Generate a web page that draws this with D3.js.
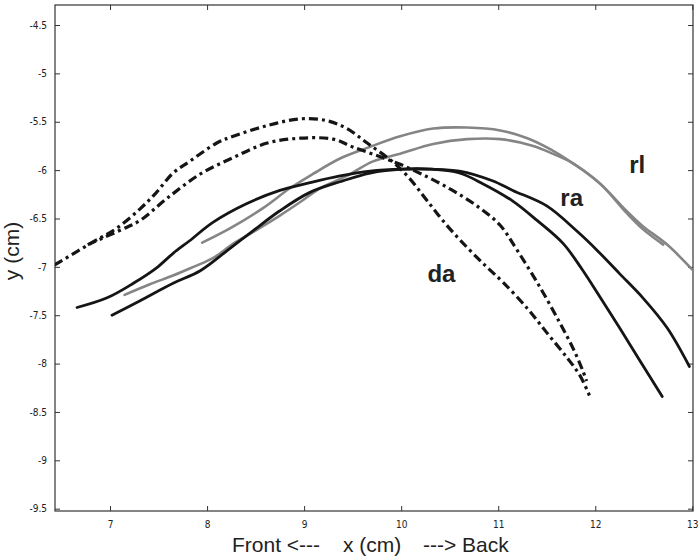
<!DOCTYPE html>
<html lang="en">
<head>
<meta charset="UTF-8">
<script src="https://d3js.org/d3.v7.min.js"></script>
<style>
  body { margin: 0; background: #fff; }
  svg text { font-family: "Liberation Sans", Arial, sans-serif; fill: #222; }
  .tick text { font-family: "DejaVu Sans Condensed", "Liberation Sans Narrow", "Liberation Sans", sans-serif; font-stretch: condensed; font-size: 10px; }
</style>
</head>
<body>
<svg id="graph" width="700" height="558"></svg>
<script>
// x ticks / y ticks (cm)
const xTicks = [7, 8, 9, 10, 11, 12, 13];
const yTicks = [-4.5, -5, -5.5, -6, -6.5, -7, -7.5, -8, -8.5, -9, -9.5];

// dash-dot "da" traces
const da1 = [[6.43,-6.98],[6.83,-6.74],[7.07,-6.60],[7.31,-6.40],[7.47,-6.24],[7.65,-6.03],[7.82,-5.91],[8.10,-5.72],[8.27,-5.65],[8.62,-5.54],[8.96,-5.47],[9.24,-5.49],[9.44,-5.57],[9.65,-5.72],[9.92,-5.92],[10.09,-6.09],[10.27,-6.32],[10.47,-6.57],[10.68,-6.80],[10.88,-7.00],[11.05,-7.16],[11.30,-7.43],[11.50,-7.68],[11.71,-7.94],[11.84,-8.12],[11.94,-8.33]];
const da2 = [[6.77,-6.77],[7.13,-6.61],[7.31,-6.52],[7.59,-6.29],[7.93,-6.04],[8.27,-5.87],[8.62,-5.72],[8.96,-5.67],[9.30,-5.68],[9.50,-5.76],[9.75,-5.85],[9.99,-5.94],[10.27,-6.07],[10.53,-6.21],[10.78,-6.37],[11.02,-6.57],[11.19,-6.82],[11.43,-7.21],[11.63,-7.57],[11.77,-7.84],[11.87,-8.07],[11.91,-8.18]];

// solid black "ra" traces
const ra1 = [[6.66,-7.42],[6.97,-7.32],[7.24,-7.17],[7.48,-7.01],[7.65,-6.86],[7.82,-6.73],[8.06,-6.54],[8.40,-6.35],[8.75,-6.21],[9.06,-6.13],[9.37,-6.06],[9.68,-6.01],[10.02,-5.99],[10.30,-5.99],[10.60,-6.01],[10.94,-6.11],[11.15,-6.21],[11.50,-6.37],[11.81,-6.63],[12.02,-6.83],[12.25,-7.07],[12.49,-7.32],[12.74,-7.63],[12.97,-8.03]];
const ra2 = [[7.02,-7.50],[7.31,-7.35],[7.65,-7.17],[7.93,-7.04],[8.21,-6.83],[8.47,-6.63],[8.75,-6.42],[9.06,-6.23],[9.37,-6.12],[9.68,-6.03],[10.02,-5.99],[10.30,-5.99],[10.60,-6.03],[10.84,-6.14],[11.15,-6.32],[11.40,-6.52],[11.67,-6.76],[11.86,-7.02],[12.06,-7.33],[12.25,-7.63],[12.46,-7.97],[12.69,-8.34]];

// grey "rl" traces
const rl1 = [[7.15,-7.29],[7.41,-7.18],[7.65,-7.09],[7.86,-7.00],[8.06,-6.91],[8.27,-6.76],[8.49,-6.63],[8.75,-6.47],[8.96,-6.33],[9.16,-6.19],[9.44,-6.06],[9.71,-5.91],[9.99,-5.83],[10.33,-5.73],[10.68,-5.68],[11.02,-5.68],[11.36,-5.75],[11.56,-5.83],[11.77,-5.93],[12.05,-6.14],[12.32,-6.42],[12.49,-6.58],[12.74,-6.77],[13.01,-7.04]];
const rl2 = [[7.95,-6.75],[8.24,-6.60],[8.58,-6.39],[8.85,-6.19],[9.09,-6.04],[9.37,-5.88],[9.65,-5.77],[9.99,-5.65],[10.33,-5.57],[10.68,-5.56],[11.02,-5.59],[11.30,-5.67],[11.53,-5.78],[11.77,-5.93],[12.05,-6.14],[12.32,-6.44],[12.49,-6.61],[12.70,-6.77]];

const labels = [["da", 10.27, -7.16], ["ra", 11.64, -6.37], ["rl", 12.35, -6.03]];

function plot() {
  const svg = d3.select("svg");
  const left = 55, right = 693, top = 5, bottom = 511;

  const x = d3.scaleLinear().domain([6.433, 13.007]).range([left, right]);
  const y = d3.scaleLinear().domain([-9.524, -4.293]).range([bottom, top]);

  svg.append("clipPath").attr("id", "clip")
    .append("rect").attr("x", left).attr("y", top)
    .attr("width", right - left).attr("height", bottom - top);

  const fmt = d => String(d);
  const tk = 5;

  // bottom & top
  svg.append("g").attr("transform", `translate(0,${bottom})`)
    .call(d3.axisBottom(x).tickValues(xTicks).tickFormat(fmt).tickSizeInner(-tk).tickSizeOuter(0).tickPadding(10));
  svg.append("g").attr("transform", `translate(0,${top})`)
    .call(d3.axisTop(x).tickValues(xTicks).tickFormat("").tickSizeInner(-tk).tickSizeOuter(0));
  // left & right
  svg.append("g").attr("transform", `translate(${left},0)`)
    .call(d3.axisLeft(y).tickValues(yTicks).tickFormat(fmt).tickSizeInner(-tk).tickSizeOuter(0).tickPadding(8));
  svg.append("g").attr("transform", `translate(${right},0)`)
    .call(d3.axisRight(y).tickValues(yTicks).tickFormat("").tickSizeInner(-tk).tickSizeOuter(0));

  svg.selectAll(".domain").remove();
  svg.selectAll(".tick line").attr("stroke", "#333");

  svg.append("rect").attr("x", left).attr("y", top)
    .attr("width", right - left).attr("height", bottom - top)
    .attr("fill", "none").attr("stroke", "#333").attr("stroke-width", 1.2);

  const line = d3.line().curve(d3.curveCatmullRom.alpha(0.5))
    .x(d => x(d[0])).y(d => y(d[1]));

  const g = svg.append("g").attr("clip-path", "url(#clip)");
  const series = [
    [rl1, "#858585", 2.6, null],
    [rl2, "#858585", 2.6, null],
    [ra1, "#151515", 2.8, null],
    [ra2, "#151515", 2.8, null],
    [da1, "#151515", 3.2, "9,4,3,4"],
    [da2, "#151515", 3.2, "9,4,3,4"]
  ];
  for (const [data, col, w, dash] of series) {
    g.append("path").attr("d", line(data))
      .attr("fill", "none").attr("stroke", col).attr("stroke-width", w)
      .attr("stroke-linecap", dash ? "butt" : "round").attr("stroke-linejoin", "round")
      .attr("stroke-dasharray", dash);
  }

  svg.selectAll(".curve-label").data(labels).enter().append("text")
    .attr("x", d => x(d[1])).attr("y", d => y(d[2]))
    .attr("font-size", 24).attr("font-weight", "bold")
    .text(d => d[0]);

  // axis titles
  const xt = [["Front <---", 232], ["x (cm)", 343], ["---> Back", 423]];
  svg.selectAll(".xt").data(xt).enter().append("text")
    .attr("x", d => d[1]).attr("y", 552).attr("font-size", 21).text(d => d[0]);
  svg.append("text").attr("transform", "translate(19,251) rotate(-90)")
    .attr("text-anchor", "middle").attr("font-size", 21).text("y (cm)");
}
plot();
</script>
</body>
</html>
